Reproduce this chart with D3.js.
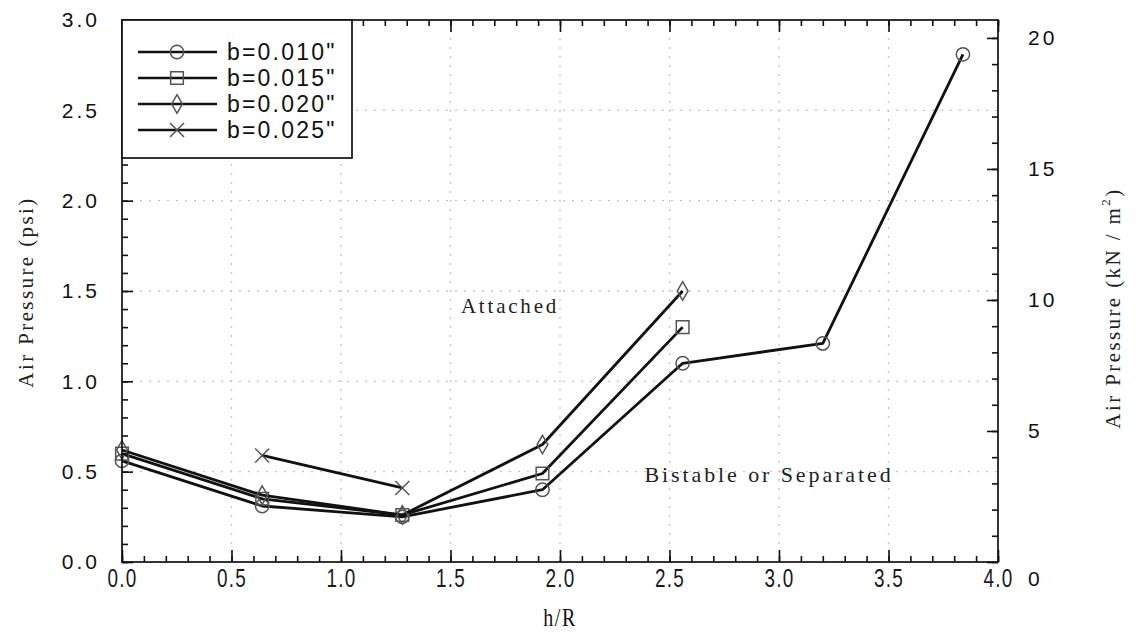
<!DOCTYPE html>
<html>
<head>
<meta charset="utf-8">
<script src="https://cdn.jsdelivr.net/npm/d3@7/dist/d3.min.js"></script>
<style>
  html, body { margin: 0; padding: 0; background: #fff; }
  svg { display: block; }
</style>
</head>
<body>
<svg id="chart" width="1138" height="635"></svg>
<script>
// h/R positions shared by the slot-width series
const hR = [0, 0.64, 1.28, 1.92, 2.56, 3.20, 3.84];

// Air pressure (psi) needed for attachment, per slot width b
const b010 = [0.56, 0.31, 0.25, 0.40, 1.10, 1.21, 2.81];
const b015 = [0.60, 0.35, 0.26, 0.49, 1.30];
const b020 = [0.62, 0.37, 0.26, 0.65, 1.50];
const b025x = [0.64, 1.28];
const b025 = [0.59, 0.41];

const seriesNames = ['b=0.010"', 'b=0.015"', 'b=0.020"', 'b=0.025"'];
const seriesSymbols = ["circle", "square", "diamond", "cross"];

const xTicks = [0, 0.5, 1.0, 1.5, 2.0, 2.5, 3.0, 3.5, 4.0];
const yTicks = [0, 0.5, 1.0, 1.5, 2.0, 2.5, 3.0];
const kTicks = [0, 5, 10, 15, 20];
const PSI_TO_KPA = 6.894757;

const svg = d3.select("#chart");
const x = d3.scaleLinear().domain([0, 4]).range([122, 998]);
const y = d3.scaleLinear().domain([0, 3]).range([562, 20]);
const yk = d3.scaleLinear().domain([0, 3 * PSI_TO_KPA]).range([562, 20]);

const series = [
  { name: seriesNames[0], sym: seriesSymbols[0], xs: hR, ys: b010 },
  { name: seriesNames[1], sym: seriesSymbols[1], xs: hR.slice(0, b015.length), ys: b015 },
  { name: seriesNames[2], sym: seriesSymbols[2], xs: hR.slice(0, b020.length), ys: b020 },
  { name: seriesNames[3], sym: seriesSymbols[3], xs: b025x, ys: b025 }
];

const sansFont = "'Liberation Sans', Arial, sans-serif";
const serifFont = "'Liberation Serif', 'DejaVu Serif', serif";

// dotted grid
const grid = svg.append("g").attr("stroke", "#c4c4c4").attr("stroke-width", 1.3)
  .attr("stroke-dasharray", "2,7");
grid.selectAll("line.v").data(xTicks.slice(1, -1)).join("line")
  .attr("x1", d => x(d)).attr("x2", d => x(d)).attr("y1", y(0)).attr("y2", y(3));
grid.selectAll("line.h").data(yTicks.slice(1, -1)).join("line")
  .attr("y1", d => y(d)).attr("y2", d => y(d)).attr("x1", x(0)).attr("x2", x(4));

// marker shapes
function markerPath(sym) {
  if (sym === "circle") return d3.symbol(d3.symbolCircle, 140)();
  if (sym === "square") return d3.symbol(d3.symbolSquare, 160)();
  if (sym === "diamond") return d3.symbol(d3.symbolDiamond, 100)();
  const s = 7;
  return `M${-s},${-s}L${s},${s}M${-s},${s}L${s},${-s}`;
}

// series lines and markers
const line = d3.line().x(d => x(d[0])).y(d => y(d[1]));
series.forEach(s => {
  const pts = s.xs.map((v, i) => [v, s.ys[i]]);
  svg.append("path").datum(pts).attr("d", line)
    .attr("fill", "none").attr("stroke", "#111").attr("stroke-width", 2.8)
    .attr("stroke-linejoin", "round");
  svg.append("g").selectAll("path").data(pts).join("path")
    .attr("transform", d => `translate(${x(d[0])},${y(d[1])})`)
    .attr("d", markerPath(s.sym))
    .attr("fill", "none").attr("stroke", "#555").attr("stroke-width", 1.5);
});

// frame
svg.append("rect").attr("x", x(0)).attr("y", y(3))
  .attr("width", x(4) - x(0)).attr("height", y(0) - y(3))
  .attr("fill", "none").attr("stroke", "#111").attr("stroke-width", 1.7);

function styleAxis(g) {
  g.select(".domain").remove();
  g.selectAll(".tick line").attr("stroke", "#111").attr("stroke-width", 1.6);
}
const xMinor = d3.range(0, 41).map(i => i / 10);
const yMinor = d3.range(0, 31).map(i => i / 10);
const kMinor = d3.range(0, 21);

// bottom axis
svg.append("g").attr("transform", `translate(0,${y(0)})`)
  .call(d3.axisBottom(x).tickValues(xMinor).tickSize(-6).tickFormat(""))
  .call(styleAxis);
svg.append("g").attr("transform", `translate(0,${y(0)})`)
  .call(d3.axisBottom(x).tickValues(xTicks).tickSize(-12).tickPadding(5).tickFormat(d3.format(".1f")))
  .call(styleAxis)
  .call(g => g.selectAll("text").attr("font-family", sansFont).attr("font-size", 22)
    .attr("fill", "#1a1a1a").attr("letter-spacing", 1.5)
    .attr("transform", "scale(0.86,1.2)"));

// top axis
svg.append("g").attr("transform", `translate(0,${y(3)})`)
  .call(d3.axisTop(x).tickValues(xMinor).tickSize(-6).tickFormat(""))
  .call(styleAxis);
svg.append("g").attr("transform", `translate(0,${y(3)})`)
  .call(d3.axisTop(x).tickValues(xTicks).tickSize(-12).tickFormat(""))
  .call(styleAxis);

// left axis (psi)
svg.append("g").attr("transform", `translate(${x(0)},0)`)
  .call(d3.axisLeft(y).tickValues(yMinor).tickSize(-6).tickFormat(""))
  .call(styleAxis);
svg.append("g").attr("transform", `translate(${x(0)},0)`)
  .call(d3.axisLeft(y).tickValues(yTicks).tickSize(-11).tickPadding(22).tickFormat(d3.format(".1f")))
  .call(styleAxis)
  .call(g => g.selectAll("text").attr("font-family", sansFont).attr("font-size", 21)
    .attr("fill", "#111").attr("letter-spacing", 3));

// right axis (kN/m^2)
svg.append("g").attr("transform", `translate(${x(4)},0)`)
  .call(d3.axisRight(yk).tickValues(kMinor).tickSize(-6).tickFormat(""))
  .call(styleAxis);
svg.append("g").attr("transform", `translate(${x(4)},0)`)
  .call(d3.axisRight(yk).tickValues(kTicks).tickSize(-11).tickPadding(30))
  .call(styleAxis)
  .call(g => g.selectAll("text").attr("font-family", sansFont).attr("font-size", 21)
    .attr("fill", "#111").attr("letter-spacing", 3)
    .attr("dy", d => d === 0 ? "1.1em" : "0.32em"));

// axis titles
svg.append("text").attr("transform", `translate(${x(2)},${y(0) + 64}) scale(0.8,1.05)`)
  .attr("text-anchor", "middle").attr("font-family", serifFont).attr("font-size", 25)
  .attr("fill", "#111").attr("letter-spacing", 2).text("h/R");

svg.append("text").attr("transform", `translate(33,292) rotate(-90)`)
  .attr("text-anchor", "middle").attr("font-family", serifFont).attr("font-size", 21)
  .attr("fill", "#222").attr("letter-spacing", 2.4).text("Air Pressure (psi)");

const rTitle = svg.append("text")
  .attr("transform", `translate(1120,308) rotate(-90)`)
  .attr("text-anchor", "middle").attr("font-family", serifFont).attr("font-size", 21)
  .attr("fill", "#222").attr("letter-spacing", 2.4);
rTitle.append("tspan").text("Air Pressure (kN / m");
rTitle.append("tspan").attr("dy", -10).attr("font-size", 13).text("2");
rTitle.append("tspan").attr("dy", 10).text(")");

// region annotations
svg.append("text").attr("x", 510).attr("y", 313).attr("text-anchor", "middle")
  .attr("font-family", serifFont).attr("font-size", 21).attr("fill", "#222")
  .attr("letter-spacing", 2.8).text("Attached");
svg.append("text").attr("x", 769).attr("y", 482).attr("text-anchor", "middle")
  .attr("font-family", serifFont).attr("font-size", 22).attr("fill", "#222")
  .attr("letter-spacing", 2.9).text("Bistable or Separated");

// legend
const legend = svg.append("g");
legend.append("rect").attr("x", x(0)).attr("y", y(3)).attr("width", 230).attr("height", 138)
  .attr("fill", "#fff").attr("stroke", "#111").attr("stroke-width", 1.7);
const legY = d3.scalePoint().domain(seriesNames).range([52, 130]);
series.forEach(s => {
  const ly = legY(s.name);
  legend.append("line").attr("x1", 138).attr("x2", 217).attr("y1", ly).attr("y2", ly)
    .attr("stroke", "#111").attr("stroke-width", 2.6);
  legend.append("path").attr("transform", `translate(177,${ly})`).attr("d", markerPath(s.sym))
    .attr("fill", "none").attr("stroke", "#555").attr("stroke-width", 1.5);
  legend.append("text").attr("x", 227).attr("y", ly).attr("dy", "0.36em")
    .attr("font-family", sansFont).attr("font-size", 23).attr("fill", "#111")
    .attr("letter-spacing", 2.2).text(s.name);
});
</script>
</body>
</html>
